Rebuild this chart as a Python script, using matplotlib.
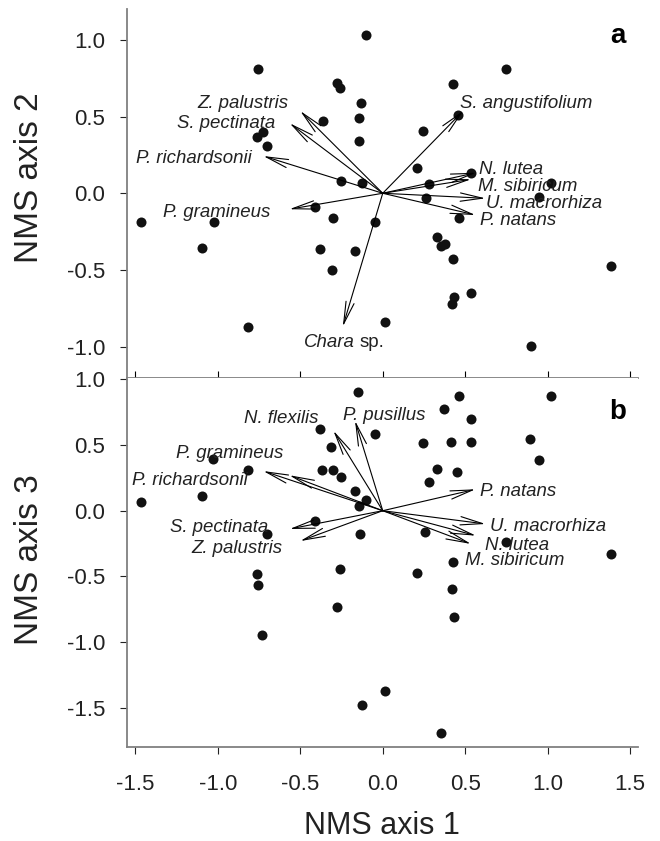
import numpy as np
import matplotlib
matplotlib.use('Agg')
import matplotlib.pyplot as plt

plt.rcParams['font.family'] = ['Liberation Sans', 'DejaVu Sans']
plt.rcParams['axes.unicode_minus'] = False

# site scores, panel a (NMS axis 1 vs 2)
site_x_a = [-0.10, -0.754, -0.275, -0.259, -0.133, -0.364, -0.145, -0.727, -0.764, -0.70, -0.145, -0.251, -0.124,
            0.745, 0.424, 0.455, 0.246, 0.206, 0.535, 0.28, 1.02,
            0.26, 0.947, 0.462, 0.331, 0.353, 0.378, 0.424, 1.384, 0.535, 0.432, 0.418, 0.014, 0.899,
            -1.467, -1.024, -1.093, -0.412, -0.301, -0.047, -0.378, -0.168, -0.309, -0.816]
site_y_a = [1.03, 0.81, 0.72, 0.685, 0.587, 0.47, 0.489, 0.40, 0.37, 0.31, 0.343, 0.08, 0.067,
            0.81, 0.713, 0.51, 0.406, 0.163, 0.13, 0.06, 0.07,
            -0.033, -0.022, -0.163, -0.283, -0.342, -0.331, -0.429, -0.476, -0.652, -0.678, -0.722, -0.842, -0.996,
            -0.189, -0.189, -0.359, -0.087, -0.159, -0.189, -0.365, -0.376, -0.50, -0.874]

# site scores, panel b (NMS axis 1 vs 3)
site_x_b = [-0.15, -0.38, -0.047, -0.313, -1.027, -0.818, -0.366, -0.301, -0.255, -0.168, -0.101, -0.145,
            -1.095, -1.467, -0.412, -0.703, -0.138,
            0.462, 1.02, 0.373, 0.533, 0.242, 0.416, 0.533, 0.895, 0.947, 0.327, 0.452, 0.279, 0.258, 0.747, 1.384,
            0.425, -0.764, -0.754, -0.261, 0.205, 0.422, -0.276, 0.433, -0.729, 0.013, -0.123, 0.351]
site_y_b = [0.90, 0.622, 0.581, 0.485, 0.391, 0.31, 0.31, 0.31, 0.254, 0.148, 0.081, 0.036,
            0.112, 0.068, -0.078, -0.175, -0.175,
            0.875, 0.87, 0.774, 0.695, 0.518, 0.525, 0.523, 0.546, 0.388, 0.317, 0.295, 0.218, -0.164, -0.236, -0.327,
            -0.388, -0.484, -0.565, -0.444, -0.477, -0.598, -0.73, -0.807, -0.946, -1.37, -1.479, -1.694]

# species vectors (nan = not shown on that panel)
species = ['Z. palustris', 'S. pectinata', 'P. richardsonii', 'P. gramineus', 'Chara',
           'S. angustifolium', 'N. lutea', 'M. sibiricum', 'U. macrorhiza', 'P. natans',
           'N. flexilis', 'P. pusillus']
load1 = [-0.50, -0.564, -0.724, -0.566, -0.242, 0.489, 0.565, 0.535, 0.623, 0.562, -0.299, -0.168]
load2 = [0.537, 0.457, 0.243, -0.104, -0.87, 0.539, 0.134, 0.091, -0.033, -0.142, np.nan, np.nan]
load3 = [-0.231, -0.139, 0.302, 0.27, np.nan, np.nan, -0.19, -0.253, -0.101, 0.163, 0.609, 0.685]

# label anchors (x, y centre, alignment) per panel
lab_a = {'Z. palustris': (-0.574, 0.597, 'right'), 'S. pectinata': (-0.653, 0.467, 'right'),
         'P. richardsonii': (-0.794, 0.239, 'right'), 'P. gramineus': (-0.683, -0.109, 'right'),
         'S. angustifolium': (0.468, 0.597, 'left'), 'N. lutea': (0.585, 0.17, 'left'),
         'M. sibiricum': (0.58, 0.059, 'left'), 'U. macrorhiza': (0.626, -0.055, 'left'),
         'P. natans': (0.59, -0.163, 'left')}
lab_b = {'N. flexilis': (-0.39, 0.72, 'right'), 'P. pusillus': (-0.242, 0.741, 'left'),
         'P. gramineus': (-0.604, 0.453, 'right'), 'P. richardsonii': (-0.818, 0.249, 'right'),
         'S. pectinata': (-0.693, -0.114, 'right'), 'Z. palustris': (-0.606, -0.274, 'right'),
         'P. natans': (0.59, 0.165, 'left'), 'U. macrorhiza': (0.65, -0.104, 'left'),
         'N. lutea': (0.62, -0.248, 'left'), 'M. sibiricum': (0.497, -0.362, 'left')}

spine_col = '#808080'
W, H = 660, 841
fig = plt.figure(figsize=(W / 100, H / 100), dpi=100)
ax_a = fig.add_axes([127.3 / W, 1 - 378 / H, (638 - 127.3) / W, (378 - 9) / H])
ax_b = fig.add_axes([127.3 / W, 1 - 746.7 / H, (638 - 127.3) / W, (746.7 - 378) / H])


def draw_panel(ax, sx, sy, ly, labels):
    ax.scatter(sx, sy, s=52, color='#111111', zorder=3, linewidths=0)
    for name, vx, vy in zip(species, load1, ly):
        if np.isnan(vy):
            continue
        ax.annotate('', xy=(vx, vy), xytext=(0, 0),
                    arrowprops=dict(arrowstyle='->,head_length=1.6,head_width=0.3',
                                    lw=0.8, color='black', shrinkA=0, shrinkB=0,
                                    mutation_scale=10))
        if name in labels:
            lx, lyy, ha = labels[name]
            ax.annotate(name, xy=(lx, lyy), xytext=(0, -4.7), textcoords='offset points',
                        ha=ha, va='baseline', fontsize=13.4, style='italic', color='#222222')
    ax.set_xlim(-1.548, 1.547)
    ax.set_xticks([-1.5, -1.0, -0.5, 0.0, 0.5, 1.0, 1.5])
    for side in ['top', 'right']:
        ax.spines[side].set_visible(False)
    for side in ['left', 'bottom']:
        ax.spines[side].set_color(spine_col)
        ax.spines[side].set_linewidth(1.3)
    ax.tick_params(axis='y', direction='out', length=5, width=0.8, pad=10.8,
                   labelsize=16, colors='#222222')


draw_panel(ax_a, site_x_a, site_y_a, load2, lab_a)
# Chara sp. label: genus italic, "sp." upright
ax_a.annotate('Chara', xy=(-0.168, -0.963), xytext=(0, -4.7), textcoords='offset points',
              ha='right', va='baseline', fontsize=13.4, style='italic', color='#222222')
ax_a.annotate('sp.', xy=(-0.138, -0.963), xytext=(0, -4.7), textcoords='offset points',
              ha='left', va='baseline', fontsize=13.4, color='#222222')
ax_a.set_ylim(-1.205, 1.202)
ax_a.set_yticks([-1.0, -0.5, 0.0, 0.5, 1.0])
ax_a.set_yticklabels(['-1.0', '-0.5', '0.0', '0.5', '1.0'])
ax_a.tick_params(axis='x', direction='in', length=5, width=0.8, labelbottom=False)

draw_panel(ax_b, site_x_b, site_y_b, load3, lab_b)
ax_b.set_ylim(-1.796, 1.01)
ax_b.set_yticks([-1.5, -1.0, -0.5, 0.0, 0.5, 1.0])
ax_b.set_yticklabels(['-1.5', '-1.0', '-0.5', '0.0', '0.5', '1.0'])
ax_b.set_xticklabels(['-1.5', '-1.0', '-0.5', '0.0', '0.5', '1.0', '1.5'])
ax_b.tick_params(axis='x', direction='out', length=5, width=0.8, pad=15,
                 labelsize=16, colors='#222222')

ax_a.text(623 / W * 0 + 0.96, 1 - 27 / 369, 'a', transform=ax_a.transAxes, ha='center',
          va='center', fontsize=20, fontweight='bold')
ax_b.text(0.96, 1 - 34 / 368.7, 'b', transform=ax_b.transAxes, ha='center',
          va='center', fontsize=20, fontweight='bold')

fig.text(30 / W, 1 - 178 / H, 'NMS axis 2', rotation=90, ha='center', va='center',
         fontsize=24, color='#222222')
fig.text(30 / W, 1 - 560 / H, 'NMS axis 3', rotation=90, ha='center', va='center',
         fontsize=24, color='#222222')
fig.text(382 / W, 1 - 826 / H, 'NMS axis 1', ha='center', va='center',
         fontsize=22, color='#222222')

fig.savefig('out.png', dpi=100)
